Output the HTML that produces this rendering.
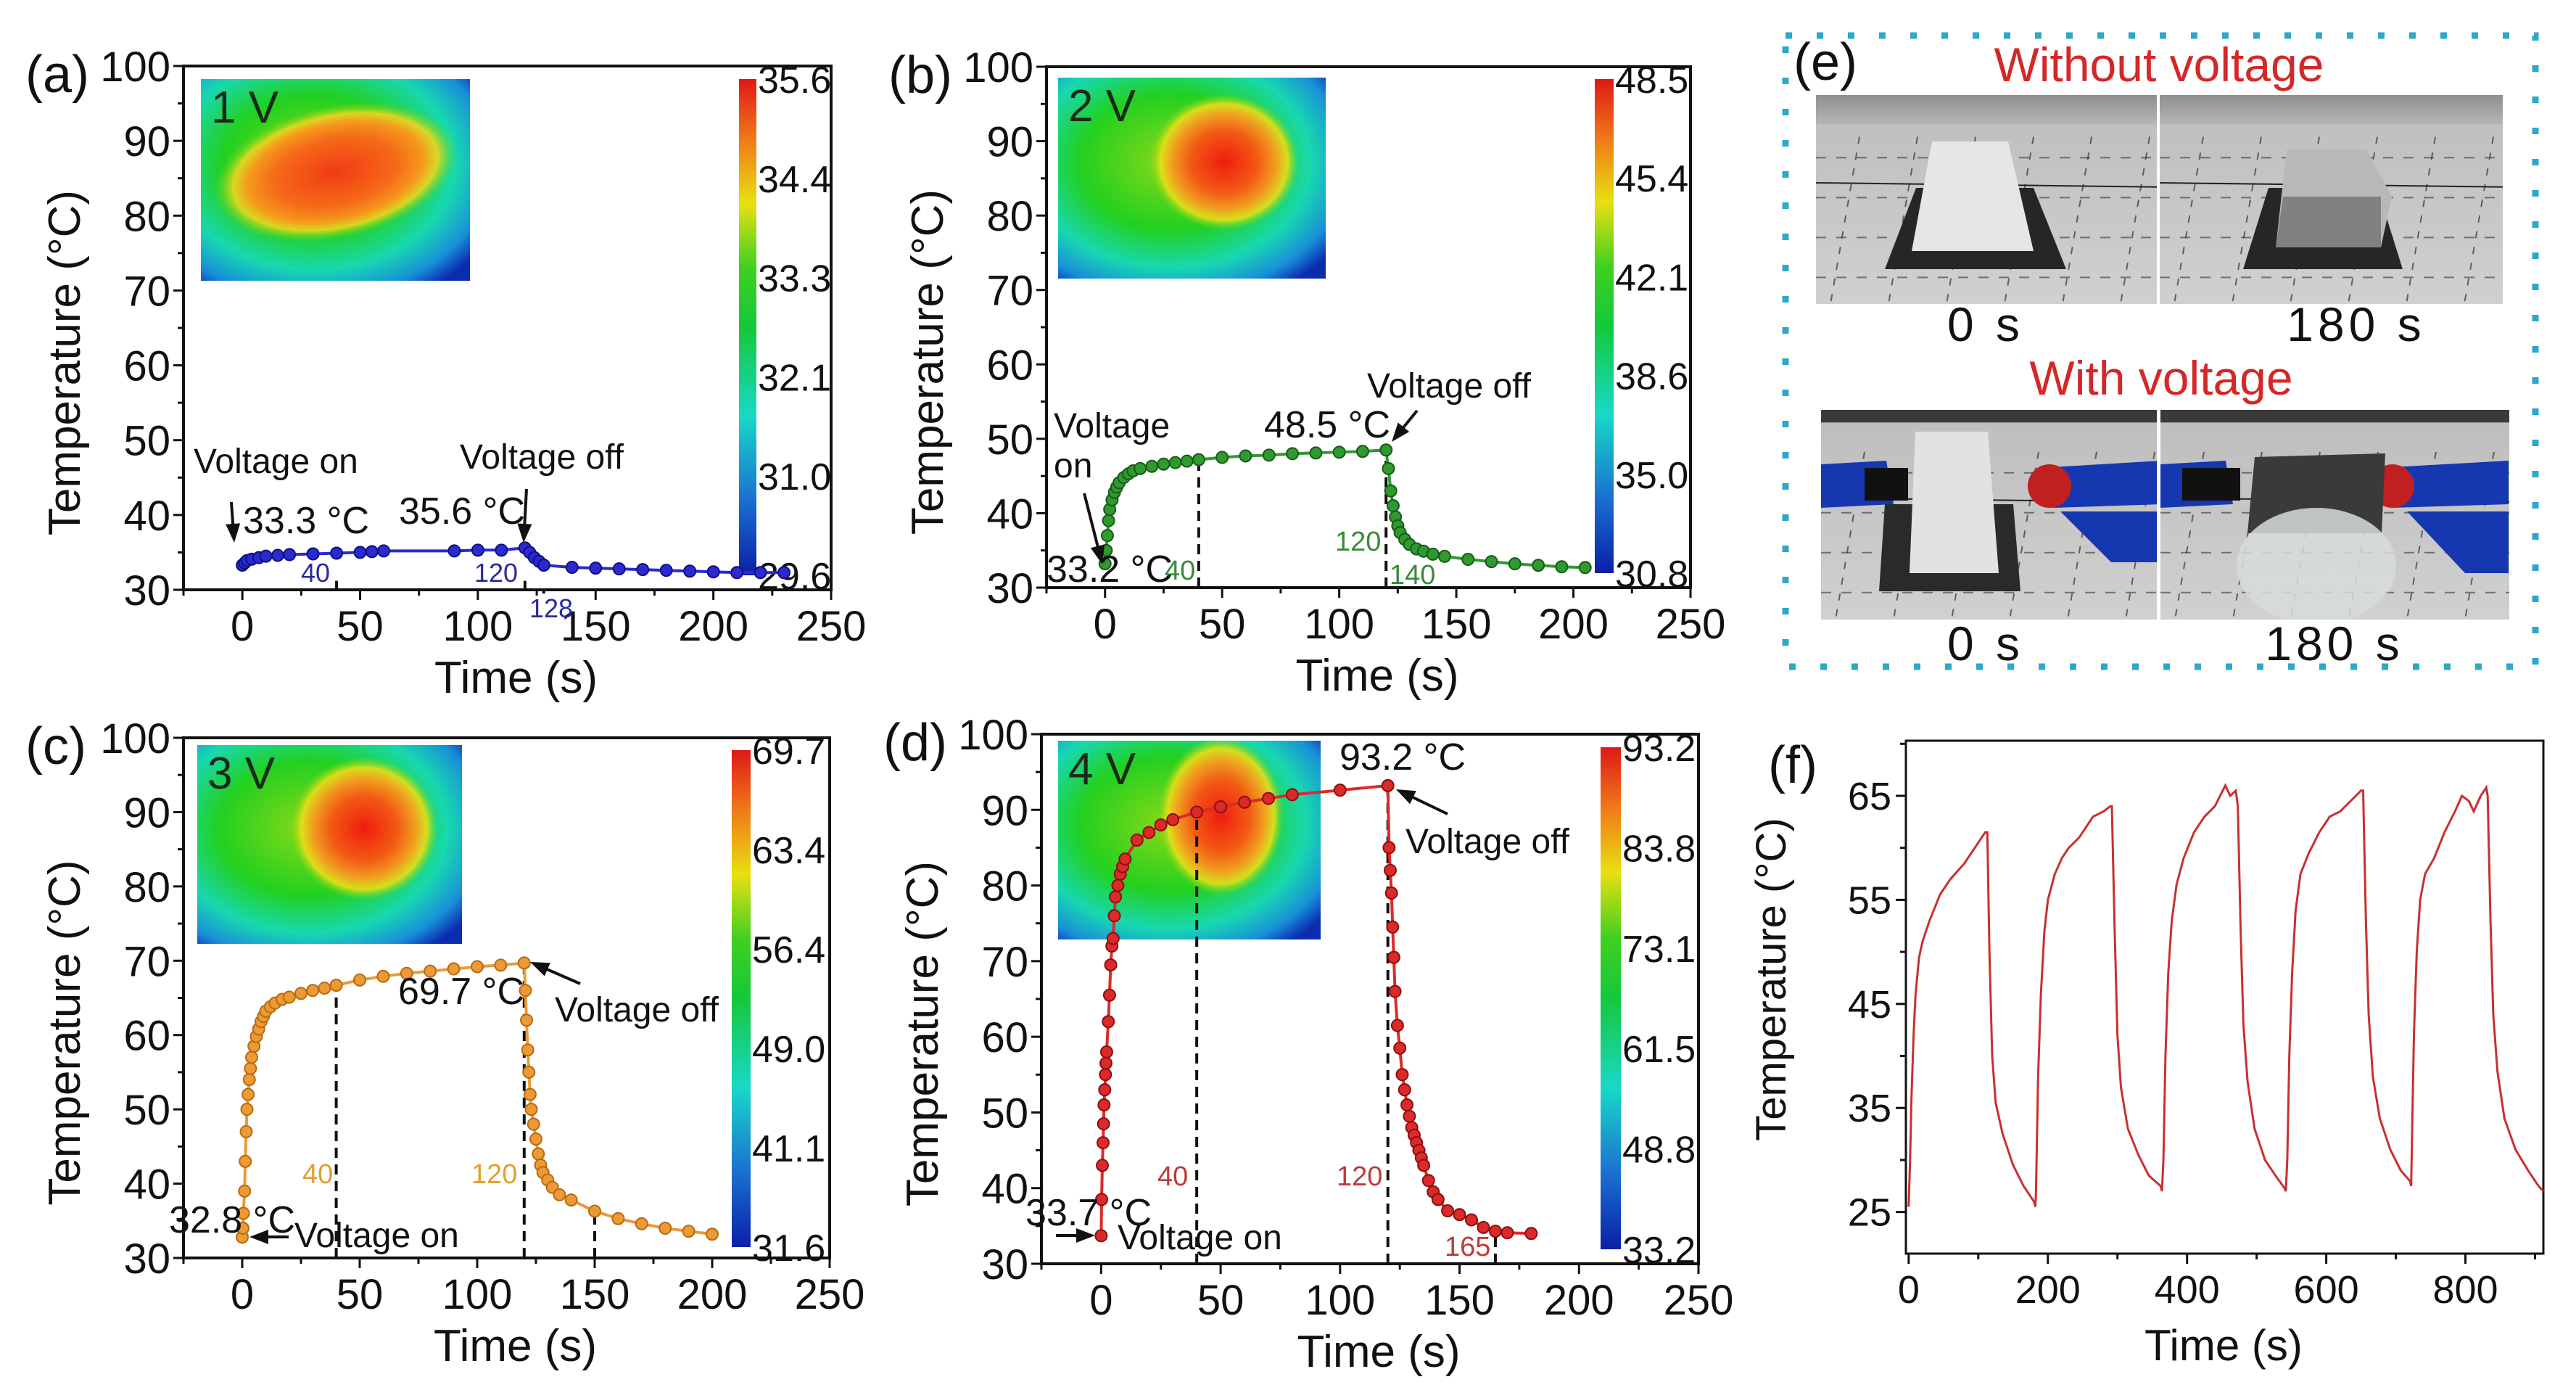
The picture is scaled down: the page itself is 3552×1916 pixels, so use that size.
<!DOCTYPE html>
<html><head><meta charset="utf-8">
<style>
html,body{margin:0;padding:0;background:#fff;}
svg{display:block;font-family:"Liberation Sans",Arial,sans-serif;}
</style></head>
<body>
<svg id="fig" xmlns="http://www.w3.org/2000/svg" width="3552" height="1916" viewBox="0 0 3552 1916">
<defs>
  <linearGradient id="jet" x1="0" y1="1" x2="0" y2="0">
    <stop offset="0" stop-color="#0a1fa8"/>
    <stop offset="0.15" stop-color="#1a6fd0"/>
    <stop offset="0.32" stop-color="#18d8c8"/>
    <stop offset="0.5" stop-color="#14c83a"/>
    <stop offset="0.62" stop-color="#40d020"/>
    <stop offset="0.75" stop-color="#e8e010"/>
    <stop offset="0.88" stop-color="#f07818"/>
    <stop offset="1" stop-color="#e01818"/>
  </linearGradient>
  <radialGradient id="heatBase" cx="0.42" cy="0.42" r="0.75">
    <stop offset="0" stop-color="#8ad818"/>
    <stop offset="0.45" stop-color="#22d020"/>
    <stop offset="0.7" stop-color="#18d8b0"/>
    <stop offset="0.88" stop-color="#1890d8"/>
    <stop offset="1" stop-color="#0c2cb0"/>
  </radialGradient>
  <radialGradient id="hot" cx="0.5" cy="0.5" r="0.5">
    <stop offset="0" stop-color="#f01c10"/>
    <stop offset="0.45" stop-color="#f25a14"/>
    <stop offset="0.7" stop-color="#f0a020"/>
    <stop offset="0.85" stop-color="#e8e018" stop-opacity="0.9"/>
    <stop offset="1" stop-color="#80d818" stop-opacity="0"/>
  </radialGradient>
  <radialGradient id="hotA" cx="0.5" cy="0.5" r="0.5">
    <stop offset="0" stop-color="#f23a14"/>
    <stop offset="0.5" stop-color="#f56a18"/>
    <stop offset="0.72" stop-color="#f59a1c"/>
    <stop offset="0.84" stop-color="#ecd820" stop-opacity="0.9"/>
    <stop offset="1" stop-color="#60d818" stop-opacity="0"/>
  </radialGradient>
  <linearGradient id="wall" x1="0" y1="0" x2="0" y2="1">
    <stop offset="0" stop-color="#8f8f8f"/><stop offset="1" stop-color="#b5b5b5"/>
  </linearGradient>
  <linearGradient id="floor" x1="0" y1="0" x2="0" y2="1">
    <stop offset="0" stop-color="#bdbdbd"/><stop offset="1" stop-color="#d0d0d0"/>
  </linearGradient>
</defs>
</svg>
<script>
// ---------- data (a) 1 V ----------
const aTime = [0,1,2,4,7,10,15,20,30,40,50,55,60,90,100,110,120,122,124,126,128,140,150,160,170,180,190,200,210,220,230];
const aTemp = [33.3,33.6,33.9,34.1,34.3,34.5,34.6,34.7,34.8,34.9,35.0,35.1,35.2,35.2,35.3,35.3,35.6,35.0,34.3,33.8,33.3,33.0,32.9,32.8,32.7,32.6,32.5,32.4,32.3,32.3,32.3];
// ---------- data (b) 2 V ----------
const bTime = [0,0.5,1,1.5,2,3,4,5,6,8,10,12,15,20,25,30,35,40,50,60,70,80,90,100,110,120,121,122,123,124,125,126,128,130,133,136,140,145,155,165,175,185,195,205];
const bTemp = [33.2,35,37,39,40.5,41.8,42.8,43.5,44.1,44.8,45.3,45.7,46.0,46.3,46.6,46.8,47.0,47.2,47.5,47.7,47.8,48.0,48.1,48.2,48.3,48.5,46,43,41,39.5,38.3,37.4,36.5,35.8,35.2,34.9,34.5,34.2,33.8,33.5,33.2,33.0,32.8,32.7];
// ---------- data (c) 3 V ----------
const cTime = [0,0.3,0.5,1,1.3,1.7,2,2.5,3,3.5,4,5,6,7,8,9,10,12,14,17,20,25,30,35,40,50,60,70,80,90,100,110,120,120.5,121,121.5,122,122.5,123,124,125,126,127,128,130,132,135,140,150,160,170,180,190,200];
const cTemp = [32.8,34,36,39,43,47,50,52,54,55.5,57,58.5,59.8,60.8,61.8,62.5,63.2,63.8,64.3,64.8,65.1,65.6,66.0,66.3,66.7,67.4,67.9,68.3,68.6,68.9,69.2,69.4,69.7,66,62,58,55,52,50,48,46,44,42.5,41.5,40.5,39.5,38.5,37.8,36.3,35.3,34.6,34.0,33.6,33.2];
// ---------- data (d) 4 V ----------
const dTime = [0,0.2,0.5,0.8,1,1.2,1.5,1.8,2,2.3,3,3.5,4,4.5,5,5.5,6,7,8,9,10,15,20,25,30,40,50,60,70,80,100,120,120.5,121,121.5,122,122.5,123,124,125,126,127,128,129,130,131,132,133,134,135,137,139,141,145,150,155,160,165,170,180];
const dTemp = [33.7,38.5,43,46,48.5,51,53,55,56.5,58,62,65.5,69.5,72,73,76,78.5,80,81.5,82.5,83.5,86,87,88,88.7,89.7,90.4,91,91.5,92,92.6,93.2,85,82,79,74.5,70.5,66,61.5,58.5,55,53,51,49.5,48,47,46,45,44,43,41,39.5,38.5,37,36.5,35.8,34.8,34.3,34.1,34.0];
// ---------- data (f) cycling ----------
const fTime = [0,2,4,7,10,15,20,30,45,60,80,95,110,113,116,120,125,135,150,165,180,182,
  183,186,190,195,200,210,220,230,245,255,265,280,290,292,296,300,305,315,330,345,362,364,
  366,369,373,378,385,395,410,425,440,455,462,470,473,477,481,487,497,512,527,540,542,
  544,547,551,556,563,575,590,605,620,635,650,653,657,661,667,677,692,707,720,722,
  723,726,730,735,742,755,770,785,795,805,812,822,830,832,836,840,846,856,872,890,905,912];
const fTemp = [25.5,30,36,42,46,49.5,51,53,55.5,57,58.5,60,61.5,61.5,50,40,35.5,32.5,29.5,27.5,26,25.5,
  27,38,46,52,55,57.5,59,60,61,62,63,63.5,64,64,52,42,37,33,30.5,28.5,27.5,27,
  30,40,48,53,56.5,59,61.5,63,64,66,65,65.5,64,52,43,37.5,33,30,28.5,27.3,27,
  30,40,48,54,57.5,59.5,61.5,63,63.5,64.5,65.5,65.5,53,44,38,34,31,29,28,27.5,
  31,42,50,55,57.5,59,61.5,63.5,65,64.5,63.5,65,65.8,65,53,44,38.5,34,31,29,27.5,27];
// tick labels
const xTicks = [0,50,100,150,200,250];
const yTicks = [30,40,50,60,70,80,90,100];
const fxTicks = [0,200,400,600,800];
const fyTicks = [25,35,45,55,65];
const aBar = ["35.6","34.4","33.3","32.1","31.0","29.6"];
const bBar = ["48.5","45.4","42.1","38.6","35.0","30.8"];
const cBar = ["69.7","63.4","56.4","49.0","41.1","31.6"];
const dBar = ["93.2","83.8","73.1","61.5","48.8","33.2"];

const NS = "http://www.w3.org/2000/svg";
const svg = document.getElementById('fig');
function mk(tag, attrs, parent, text){
  const e = document.createElementNS(NS, tag);
  for (const k in attrs) e.setAttribute(k, attrs[k]);
  if (text !== undefined) e.textContent = text;
  (parent || svg).appendChild(e);
  return e;
}
function txt(x, y, s, size, parent, anchor, color){
  const t = mk('text', {x:x, y:y, 'font-size':size, fill:color||'#111', 'text-anchor':anchor||'start'}, parent, s);
  return t;
}
function arrow(x1,y1,x2,y2,parent){
  const g = mk('g', {}, parent);
  
  
  const ang = Math.atan2(y2-y1, x2-x1), L=26, W=10;
  mk('line',{x1:x1,y1:y1,x2:x2-Math.cos(ang)*L*0.6,y2:y2-Math.sin(ang)*L*0.6,stroke:'#111','stroke-width':4},g);
  const bx = x2-Math.cos(ang)*L, by = y2-Math.sin(ang)*L;
  mk('polygon',{points:`${x2},${y2} ${bx-Math.sin(ang)*W},${by+Math.cos(ang)*W} ${bx+Math.sin(ang)*W},${by-Math.cos(ang)*W}`,fill:'#111'},g);
}

function panel(cfg, times, temps, bar){
  const g = mk('g', {});
  
  
  const sx = v => cfg.L + (v - (-25)) / 275 * (cfg.R - cfg.L);
  const sy = v => cfg.B - (v - 30) / 70 * (cfg.B - cfg.T);
  const ins = mk('g', {}, g);
  
  
  const iw = cfg.inset[2]-cfg.inset[0], ih = cfg.inset[3]-cfg.inset[1];
  mk('rect',{x:cfg.inset[0],y:cfg.inset[1],width:iw,height:ih,fill:'url(#heatBase)'},ins);
  const clipId = 'clip'+cfg.label;
  const cp = mk('clipPath',{id:clipId},ins);
  mk('rect',{x:cfg.inset[0],y:cfg.inset[1],width:iw,height:ih},cp);
  const hs = cfg.hot;
  mk('ellipse',{cx:cfg.inset[0]+hs[0]*iw, cy:cfg.inset[1]+hs[1]*ih, rx:hs[2]*iw, ry:hs[3]*ih, fill:cfg.label==='a'?'url(#hotA)':'url(#hot)', transform:`rotate(${hs[4]} ${cfg.inset[0]+hs[0]*iw} ${cfg.inset[1]+hs[1]*ih})`,'clip-path':`url(#${clipId})`},ins);
  txt(cfg.inset[0]+14, cfg.inset[1]+60, cfg.volt, 62, ins, 'start', '#1a2a1a');
  const cb = mk('g', {}, g);
  
  
  mk('rect',{x:cfg.cb[0],y:cfg.cb[1],width:cfg.cb[2]-cfg.cb[0],height:cfg.cb[3]-cfg.cb[1],fill:'url(#jet)'},cb);
  bar.forEach((s,i)=>{
    const y = cfg.cb[1] + i*(cfg.cb[3]-cfg.cb[1])/(bar.length-1);
    const t = txt(cfg.cb[2]+2, y+19, s, 52, cb);
    
    
  });
  const ax = mk('g', {}, g);
  
  
  mk('rect',{x:cfg.L,y:cfg.T,width:cfg.R-cfg.L,height:cfg.B-cfg.T,fill:'none',stroke:'#111','stroke-width':4},ax);
  for (let v=-25; v<=250; v+=25){
    const major = v % 50 === 0;
    mk('line',{x1:sx(v),y1:cfg.B,x2:sx(v),y2:cfg.B+(major?14:8),stroke:'#111','stroke-width':3},ax);
  }
  for (let v=30; v<=100; v+=5){
    const major = v % 10 === 0;
    mk('line',{x1:cfg.L,y1:sy(v),x2:cfg.L-(major?14:8),y2:sy(v),stroke:'#111','stroke-width':3},ax);
  }
  xTicks.forEach(v=>{
    const t = txt(sx(v), cfg.B+70, String(v), 58, ax, 'middle');
    
    
  });
  yTicks.forEach(v=>{
    const t = txt(cfg.L-18, sy(v)+21, String(v), 58, ax, 'end');
    
    
  });
  const xt = txt((cfg.L+cfg.R)/2+12, cfg.B+142, 'Time (s)', 62, ax, 'middle');
  
  
  const yt = mk('text',{x:0,y:0,'font-size':62,fill:'#111','text-anchor':'middle',transform:`translate(${cfg.L-143} ${(cfg.T+cfg.B)/2+48}) rotate(-90)`},ax,'Temperature (°C)');
  
  
  const pl = txt(cfg.L-218, cfg.T+36, '('+cfg.label+')', 72, g);
  
  
  cfg.guides.forEach(gd=>{
    const l = mk('line',{x1:sx(gd[0]),y1:cfg.B,x2:sx(gd[0]),y2:sy(gd[1]),stroke:'#111','stroke-width':4,'stroke-dasharray':'14 9'},g);
    
    
  });
  const sg = mk('g', {}, g);
  
  
  const pts = times.map((t,i)=>sx(t).toFixed(1)+','+sy(temps[i]).toFixed(1)).join(' ');
  const line = mk('polyline',{points:pts,fill:'none',stroke:cfg.color,'stroke-width':4},sg);
  
  
  times.forEach((t,i)=>{
    const c = mk('circle',{cx:sx(t),cy:sy(temps[i]),r:8,fill:cfg.color,stroke:cfg.dark,'stroke-width':2},sg);
    
    
  });
  cfg.notes.forEach(n=>{
    const t = txt(n[0], n[1], n[2], n[3], g, 'start', n[4]||'#111');
    
    
  });
  cfg.arrows.forEach(a=>arrow(a[0],a[1],a[2],a[3],g));
}

panel({name:'panel-a-1v', label:'a', volt:'1 V', L:253,R:1146,T:91,B:813, color:'#2a2ad0', dark:'#101080',
  inset:[277,109,648,387], hot:[0.5,0.46,0.46,0.33,-12], cb:[1019,109,1043,793],
  guides:[[40,31.2],[120,31.2],[128,29.5]],
  notes:[[267,652,'Voltage on',48],[335,735,'33.3 °C',52],[550,722,'35.6 °C',52],[634,646,'Voltage off',48],
         [415,802,'40',36,'#2a2aa0'],[654,802,'120',36,'#2a2aa0'],[730,851,'128',36,'#2a2aa0']],
  arrows:[[319,692,323,748],[726,674,722,748]]}, aTime, aTemp, aBar);

panel({name:'panel-b-2v', label:'b', volt:'2 V', L:1443,R:2331,T:92,B:810, color:'#2f9a2f', dark:'#1a5a1a',
  inset:[1459,107,1828,384], hot:[0.62,0.42,0.28,0.34,0], cb:[2199,109,2225,790],
  guides:[[40,47.2],[120,48.5],[140,30]],
  notes:[[1453,603,'Voltage',48],[1453,658,'on',48],[1743,603,'48.5 °C',52],[1885,548,'Voltage off',48],[1443,802,'33.2 °C',52],
         [1606,799,'40',38,'#3a8a3a'],[1841,759,'120',38,'#3a8a3a'],[1916,805,'140',38,'#3a8a3a']],
  arrows:[[1495,680,1520,778],[1954,566,1919,609]]}, bTime, bTemp, bBar);

panel({name:'panel-c-3v', label:'c', volt:'3 V', L:253,R:1144,T:1017,B:1734, color:'#eb9a36', dark:'#b86a10',
  inset:[272,1027,637,1301], hot:[0.63,0.42,0.28,0.36,0], cb:[1009,1034,1035,1719],
  guides:[[40,66.7],[120,69.7],[150,36.3]],
  notes:[[549,1384,'69.7 °C',52],[765,1408,'Voltage off',48],[233,1699,'32.8 °C',52],[406,1719,'Voltage on',48],
         [417,1631,'40',38,'#e0a030'],[650,1631,'120',38,'#e0a030']],
  arrows:[[800,1356,731,1326],[398,1705,344,1705]]}, cTime, cTemp, cBar);

panel({name:'panel-d-4v', label:'d', volt:'4 V', L:1436,R:2342,T:1012,B:1742, color:'#dc2a2a', dark:'#8a1010',
  inset:[1459,1021,1821,1295], hot:[0.62,0.38,0.24,0.4,0], cb:[2207,1030,2235,1722],
  guides:[[40,89.7],[120,93.2],[165,34.3]],
  notes:[[1847,1061,'93.2 °C',52],[1938,1176,'Voltage off',48],[1414,1689,'33.7 °C',52],[1541,1722,'Voltage on',48],
         [1596,1634,'40',38,'#c03838'],[1843,1634,'120',38,'#c03838'],[1992,1731,'165',38,'#c03838']],
  arrows:[[1996,1122,1925,1088],[1456,1703,1510,1703]]}, dTime, dTemp, dBar);

// ---------- panel (e) photos ----------
(function(){
  const g = mk('g', {});
  
  
  const box = mk('rect',{x:2462,y:49,width:1034,height:870,fill:'none',stroke:'#2ea8c8','stroke-width':9,'stroke-dasharray':'9 34'},g);
  
  
  const pl = txt(2473,110,'(e)',72,g);
  
  
  const h1 = txt(2977,112,'Without voltage',66,g,'middle','#d42828');
  
  
  const h2 = txt(2980,544,'With voltage',66,g,'middle','#d42828');
  
  
  [[2738,470,'0 s'],[3249,470,'180 s'],[2738,910,'0 s'],[3219,910,'180 s']].forEach(c=>{
    const t = txt(c[0],c[1],c[2],66,g,'middle','#111');
    t.setAttribute('letter-spacing','6');
    
    
  });
  let pc = 0;
  function photo(x,y,w,h,kind){
    pc++;
    const cid = 'photoclip'+pc;
    const cp = mk('clipPath',{id:cid},g);
    mk('rect',{x:0,y:0,width:w,height:h},cp);
    const outer = mk('g',{transform:`translate(${x} ${y})`},g);
    
    
    const p = mk('g',{'clip-path':`url(#${cid})`},outer);
    mk('rect',{x:0,y:0,width:w,height:h,fill:'url(#floor)'},p);
    if (kind.indexOf('wired')>=0){
      mk('rect',{x:0,y:0,width:w,height:h*0.06,fill:'#3a3a3a'},p);
    } else {
      mk('rect',{x:0,y:0,width:w,height:h*0.14,fill:'url(#wall)'},p);
    }
    for(let i=0;i<8;i++){ mk('line',{x1:i*80-20,y1:h*0.2,x2:i*80-60,y2:h,stroke:'#333','stroke-width':2,'stroke-dasharray':'10 12',opacity:0.7},p); }
    for(let j=0;j<4;j++){ mk('line',{x1:0,y1:h*0.3+j*55,x2:w,y2:h*0.3+j*55,stroke:'#333','stroke-width':2,'stroke-dasharray':'14 14',opacity:0.6},p); }
    mk('line',{x1:0,y1:h*0.42,x2:w,y2:h*0.44,stroke:'#222','stroke-width':2},p);
    if(kind==='ice-0s'){
      mk('polygon',{points:'95,240 138,128 300,128 345,240',fill:'#262626'},p);
      mk('polygon',{points:'132,215 160,64 265,64 300,215',fill:'#e6e6e6'},p);
    } else if(kind==='ice-180s'){
      mk('polygon',{points:'115,240 150,128 300,128 335,240',fill:'#262626'},p);
      mk('polygon',{points:'160,210 175,75 285,75 320,140 305,210',fill:'#b8b8b8'},p);
      mk('polygon',{points:'160,210 170,140 305,140 305,210',fill:'#6a6a6a',opacity:0.7},p);
    } else if(kind==='wired-0s'){
      mk('polygon',{points:'0,75 90,70 100,130 0,135',fill:'#1538b0'},p);
      mk('rect',{x:60,y:80,width:60,height:45,fill:'#111'},p);
      mk('polygon',{points:'300,80 470,70 470,130 320,135',fill:'#1538b0'},p);
      mk('ellipse',{cx:315,cy:105,rx:30,ry:30,fill:'#c02020'},p);
      mk('polygon',{points:'80,250 88,130 265,130 275,250',fill:'#2a2a2a'},p);
      mk('polygon',{points:'122,225 130,30 230,30 245,225',fill:'#e2e2e2'},p);
      mk('polygon',{points:'330,140 470,140 470,210 400,210',fill:'#1538b0'},p);
    } else {
      mk('polygon',{points:'0,75 90,70 100,130 0,135',fill:'#1538b0'},p);
      mk('rect',{x:30,y:80,width:80,height:45,fill:'#111'},p);
      mk('polygon',{points:'300,80 480,70 480,130 320,135',fill:'#1538b0'},p);
      mk('ellipse',{cx:320,cy:105,rx:30,ry:30,fill:'#c02020'},p);
      mk('polygon',{points:'120,170 130,65 310,60 305,170',fill:'#3a3a3a'},p);
      mk('ellipse',{cx:215,cy:215,rx:110,ry:80,fill:'#d8dcdc',opacity:0.85},p);
      mk('polygon',{points:'340,140 480,140 480,225 420,225',fill:'#1538b0'},p);
    }
  }
  photo(2504,131,470,288,'ice-0s');
  photo(2978,131,473,288,'ice-180s');
  photo(2511,565,463,289,'wired-0s');
  photo(2979,565,481,289,'wired-180s');
})();

// ---------- panel (f) cycling ----------
(function(){
  const L=2628,R=3507,T=1021,B=1728;
  const sx = v => L + (v + 4) / 916 * (R - L);
  const sy = v => B - (v - 21) / 49.3 * (B - T);
  const g = mk('g', {});
  
  
  mk('rect',{x:L,y:T,width:R-L,height:B-T,fill:'none',stroke:'#111','stroke-width':3},g);
  for(let v=0; v<=900; v+=100){
    mk('line',{x1:sx(v),y1:B,x2:sx(v),y2:B+(v%200===0?14:8),stroke:'#111','stroke-width':3},g);
  }
  for(let v=25; v<=70; v+=5){
    mk('line',{x1:L,y1:sy(v),x2:L-(v%10===5?14:8),y2:sy(v),stroke:'#111','stroke-width':3},g);
  }
  fxTicks.forEach(v=>{
    const t = txt(sx(v), B+68, String(v), 54, g, 'middle');
    
    
  });
  fyTicks.forEach(v=>{
    const t = txt(L-20, sy(v)+19, String(v), 54, g, 'end');
    
    
  });
  const xt = txt(3066,1875,'Time (s)',60,g,'middle');
  
  
  const yt = mk('text',{x:0,y:0,'font-size':58,fill:'#111','text-anchor':'middle',transform:'translate(2462 1350) rotate(-90)'},g,'Temperature (°C)');
  
  
  const pl = txt(2438,1079,'(f)',72,g);
  
  
  const pts = fTime.map((t,i)=>sx(t).toFixed(1)+','+sy(fTemp[i]).toFixed(1)).join(' ');
  const line = mk('polyline',{points:pts,fill:'none',stroke:'#c83030','stroke-width':3},g);
  
  
})();
</script>
</body></html>
